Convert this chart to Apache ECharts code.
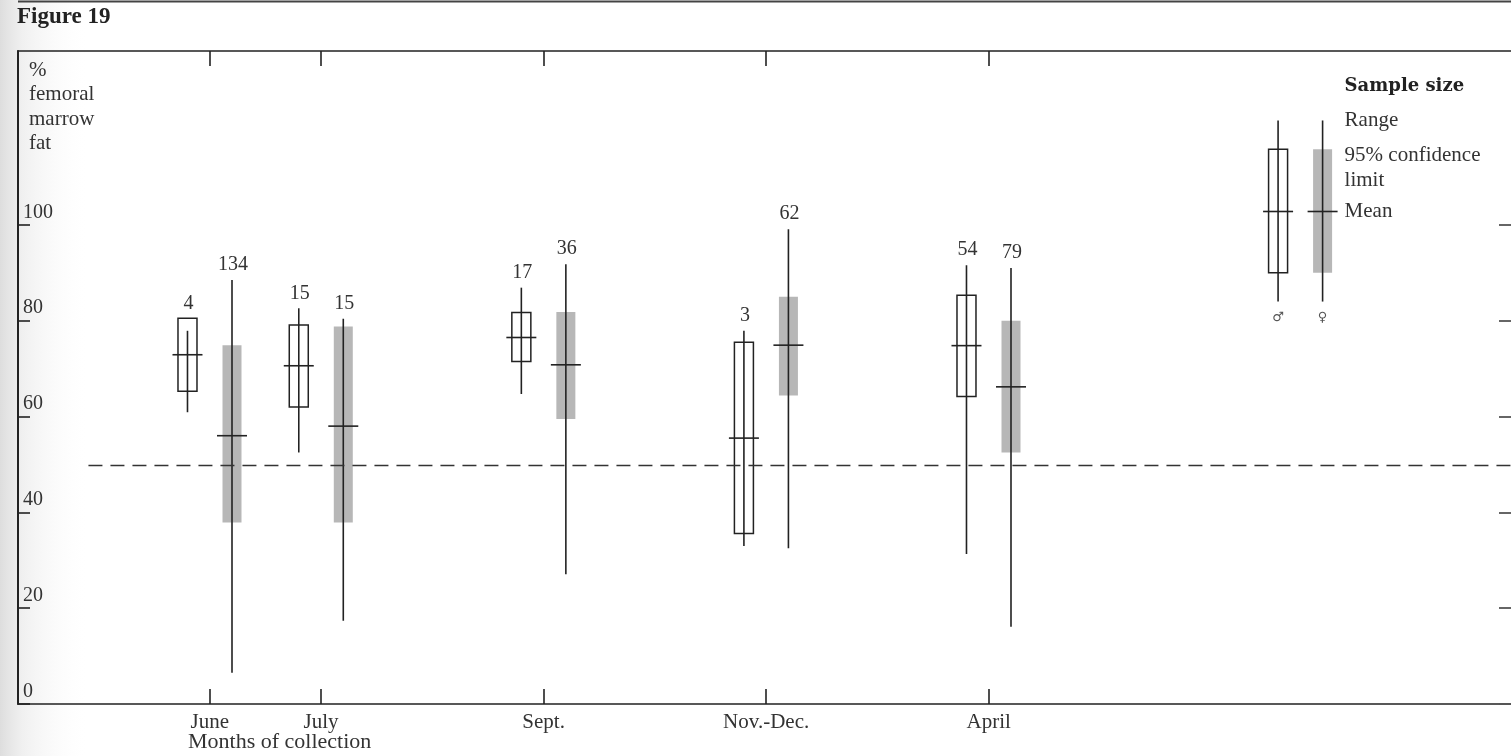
<!DOCTYPE html>
<html>
<head>
<meta charset="utf-8">
<script src="https://cdn.jsdelivr.net/npm/echarts@6/dist/echarts.min.js"></script>
<style>
  html, body { margin: 0; padding: 0; background: #ffffff; }
  #chart { width: 1511px; height: 756px; }
</style>
</head>
<body>
<div id="chart"></div>
<script>
// ---- Data ----
const months = ['June', 'July', 'Sept.', 'Nov.-Dec.', 'April'];
const monthPos = [2, 3, 5, 7, 9];           // x positions of the month ticks
const yTicks = [0, 20, 40, 60, 80, 100];

// Males (open boxes)
const maleN         = [4, 15, 17, 3, 54];
const maleMean      = [72.9, 70.6, 76.5, 55.5, 74.8];
const maleCILow     = [65.3, 62.0, 71.5, 35.6, 64.2];
const maleCIHigh    = [80.5, 79.1, 81.7, 75.5, 85.3];
const maleRangeMin  = [60.9, 52.5, 64.7, 33.0, 31.3];
const maleRangeMax  = [77.9, 82.6, 86.9, 77.9, 91.6];

// Females (grey bars)
const femaleN        = [134, 15, 36, 62, 79];
const femaleMean     = [56.0, 58.0, 70.8, 74.9, 66.2];
const femaleCILow    = [37.9, 37.9, 59.5, 64.4, 52.5];
const femaleCIHigh   = [74.9, 78.8, 81.8, 85.0, 80.0];
const femaleRangeMin = [6.5, 17.4, 27.1, 32.5, 16.1];
const femaleRangeMax = [88.5, 80.4, 91.8, 99.1, 91.0];

// Key (legend) element
const keyPos = 11.8;
const keyMean = 102.8;
const keyCILow = 90.0;
const keyCIHigh = 115.8;
const keyRangeMin = 84.0;
const keyRangeMax = 121.8;
const keyLabels = ['Sample size', 'Range', '95% confidence\nlimit', 'Mean'];
const sexSymbols = ['\u2642', '\u2640'];

// Reference (dashed) line
const refLineValue = 49.8;
const refLineStart = 0.91;

const sexOffset = 0.2;
const xMin = 0.277, xMax = 13.693;
const yMin = 0, yMax = 136.3;

const SERIF = '"Liberation Serif", "Times New Roman", serif';
const INK = '#222';
const TXT = '#333';
const GREY = '#b7b7b7';

function buildData(pos, off, lo, hi, mean, rmin, rmax, n) {
  return pos.map((p, i) => [p + off, lo[i], hi[i], mean[i], rmin[i], rmax[i], n ? n[i] : -1]);
}

function makeRender(kind) {
  return function (params, api) {
    const x = api.value(0);
    const pLo = api.coord([x, api.value(1)]);
    const pHi = api.coord([x, api.value(2)]);
    const pMean = api.coord([x, api.value(3)]);
    const pMin = api.coord([x, api.value(4)]);
    const pMax = api.coord([x, api.value(5)]);
    const n = api.value(6);
    const cx = pLo[0];
    const bw = 19;
    const children = [];
    if (kind === 'female') {
      children.push({ type: 'rect', shape: { x: cx - bw / 2, y: pHi[1], width: bw, height: pLo[1] - pHi[1] },
        style: { fill: GREY } });
    }
    children.push({ type: 'line', shape: { x1: cx, y1: pMax[1], x2: cx, y2: pMin[1] },
      style: { stroke: INK, lineWidth: 1.6 } });
    if (kind === 'male') {
      children.push({ type: 'rect', shape: { x: cx - bw / 2, y: pHi[1], width: bw, height: pLo[1] - pHi[1] },
        style: { fill: 'none', stroke: INK, lineWidth: 1.5 } });
    }
    children.push({ type: 'line', shape: { x1: cx - 15, y1: pMean[1], x2: cx + 15, y2: pMean[1] },
      style: { stroke: INK, lineWidth: 1.6 } });
    if (n >= 0) {
      const top = Math.min(pHi[1], pMax[1]);
      children.push({ type: 'text', x: cx + 1, y: top - 15,
        style: { text: String(n), fontSize: 20, fontFamily: SERIF, fill: TXT, align: 'center', verticalAlign: 'middle' } });
    }
    return { type: 'group', children: children };
  };
}

function renderKey(params, api) {
  const i = params.dataIndex;
  const x = api.value(0);
  const pLo = api.coord([x, api.value(1)]);
  const pHi = api.coord([x, api.value(2)]);
  const pMean = api.coord([x, api.value(3)]);
  const pMin = api.coord([x, api.value(4)]);
  const pMax = api.coord([x, api.value(5)]);
  const cx = pLo[0];
  const bw = 19;
  const children = [];
  if (i === 1) {
    children.push({ type: 'rect', shape: { x: cx - bw / 2, y: pHi[1], width: bw, height: pLo[1] - pHi[1] }, style: { fill: GREY } });
  }
  children.push({ type: 'line', shape: { x1: cx, y1: pMax[1], x2: cx, y2: pMin[1] }, style: { stroke: INK, lineWidth: 1.6 } });
  if (i === 0) {
    children.push({ type: 'rect', shape: { x: cx - bw / 2, y: pHi[1], width: bw, height: pLo[1] - pHi[1] },
      style: { fill: 'none', stroke: INK, lineWidth: 1.5 } });
  }
  children.push({ type: 'line', shape: { x1: cx - 15, y1: pMean[1], x2: cx + 15, y2: pMean[1] }, style: { stroke: INK, lineWidth: 1.6 } });
  children.push({ type: 'text', x: cx, y: pMin[1] + 16,
    style: { text: sexSymbols[i], fontSize: 13, fontFamily: '"DejaVu Sans", sans-serif', fill: '#555', align: 'center', verticalAlign: 'middle' } });
  if (i === 1) {
    const tx = cx + 22;
    children.push({ type: 'text', x: tx, y: pMax[1] - 34,
      style: { text: keyLabels[0], fontSize: 18, fontWeight: 'bold', fontFamily: '"DejaVu Serif", serif', fill: INK, align: 'left', verticalAlign: 'middle' } });
    children.push({ type: 'text', x: tx, y: pMax[1],
      style: { text: keyLabels[1], fontSize: 21, fontFamily: SERIF, fill: TXT, align: 'left', verticalAlign: 'middle' } });
    children.push({ type: 'text', x: tx, y: pHi[1] - 6,
      style: { text: keyLabels[2], fontSize: 21, lineHeight: 25, fontFamily: SERIF, fill: TXT, align: 'left', verticalAlign: 'top' } });
    children.push({ type: 'text', x: tx, y: pMean[1],
      style: { text: keyLabels[3], fontSize: 21, fontFamily: SERIF, fill: TXT, align: 'left', verticalAlign: 'middle' } });
  }
  return { type: 'group', children: children };
}

const chart = echarts.init(document.getElementById('chart'), null, { renderer: 'canvas' });

const axisLineStyle = { color: INK, width: 1.6 };

const option = {
  backgroundColor: '#ffffff',
  animation: false,
  title: {
    text: 'Figure 19', left: 17, top: 6, padding: 0,
    textStyle: { fontFamily: SERIF, fontWeight: 'bold', fontSize: 23, color: INK }
  },
  graphic: [
    { type: 'rect', left: 0, top: 0, z: -10, silent: true,
      shape: { width: 90, height: 756 },
      style: { fill: { type: 'linear', x: 0, y: 0, x2: 1, y2: 0,
        colorStops: [{ offset: 0, color: 'rgba(210,210,210,0.75)' }, { offset: 0.25, color: 'rgba(225,225,225,0.5)' }, { offset: 1, color: 'rgba(255,255,255,0)' }] } } },
    { type: 'line', silent: true, shape: { x1: 18, y1: 1.5, x2: 1511, y2: 1.5 }, style: { stroke: '#444', lineWidth: 2 } },
    { type: 'text', left: 29, top: 58, silent: true,
      style: { text: '%\nfemoral\nmarrow\nfat', fontSize: 21, lineHeight: 24.5, fontFamily: SERIF, fill: TXT } },
    { type: 'text', left: 188, top: 731, silent: true,
      style: { text: 'Months of collection', fontSize: 22, fontFamily: SERIF, fill: TXT } }
  ],
  grid: { left: 18, right: -2, top: 51, bottom: 52, containLabel: false },
  xAxis: [
    { type: 'value', position: 'bottom', min: xMin, max: xMax,
      axisLine: { show: true, onZero: false, lineStyle: axisLineStyle },
      axisTick: { show: true, inside: true, length: 15, customValues: monthPos, lineStyle: axisLineStyle },
      axisLabel: { show: true, customValues: monthPos, margin: 8, fontSize: 21, fontFamily: SERIF, color: TXT,
        formatter: v => months[monthPos.indexOf(v)] || '' },
      splitLine: { show: false } },
    { type: 'value', position: 'top', min: xMin, max: xMax,
      axisLine: { show: true, onZero: false, lineStyle: axisLineStyle },
      axisTick: { show: true, inside: true, length: 15, customValues: monthPos, lineStyle: axisLineStyle },
      axisLabel: { show: false },
      splitLine: { show: false } }
  ],
  yAxis: [
    { type: 'value', position: 'left', min: yMin, max: yMax,
      axisLine: { show: true, onZero: false, lineStyle: { color: INK, width: 2 } },
      axisTick: { show: true, inside: true, length: 12, customValues: yTicks, lineStyle: axisLineStyle },
      axisLabel: { show: true, inside: true, customValues: yTicks, margin: 5, fontSize: 20, fontFamily: SERIF, color: TXT,
        verticalAlign: 'bottom', lineHeight: 25 },
      splitLine: { show: false } },
    { type: 'value', position: 'right', min: yMin, max: yMax,
      axisLine: { show: false },
      axisTick: { show: true, inside: true, length: 12, customValues: yTicks, lineStyle: { color: '#555', width: 1.8 } },
      axisLabel: { show: false },
      splitLine: { show: false } }
  ],
  series: [
    { name: 'Male', type: 'custom', renderItem: makeRender('male'), clip: false,
      encode: { x: 0, y: [1, 2, 3, 4, 5] },
      data: buildData(monthPos, -sexOffset, maleCILow, maleCIHigh, maleMean, maleRangeMin, maleRangeMax, maleN), z: 3 },
    { name: 'Female', type: 'custom', renderItem: makeRender('female'), clip: false,
      encode: { x: 0, y: [1, 2, 3, 4, 5] },
      data: buildData(monthPos, sexOffset, femaleCILow, femaleCIHigh, femaleMean, femaleRangeMin, femaleRangeMax, femaleN), z: 3 },
    { name: 'Key', type: 'custom', renderItem: renderKey, clip: false,
      encode: { x: 0, y: [1, 2, 3, 4, 5] },
      data: [
        [keyPos - sexOffset, keyCILow, keyCIHigh, keyMean, keyRangeMin, keyRangeMax],
        [keyPos + sexOffset, keyCILow, keyCIHigh, keyMean, keyRangeMin, keyRangeMax]
      ], z: 3 },
    { name: 'Reference', type: 'line', symbol: 'none', silent: true, z: 4,
      lineStyle: { color: '#333', width: 1.5, type: [14, 8] },
      data: [[refLineStart, refLineValue], [xMax, refLineValue]] }
  ]
};

chart.setOption(option);
</script>
</body>
</html>
